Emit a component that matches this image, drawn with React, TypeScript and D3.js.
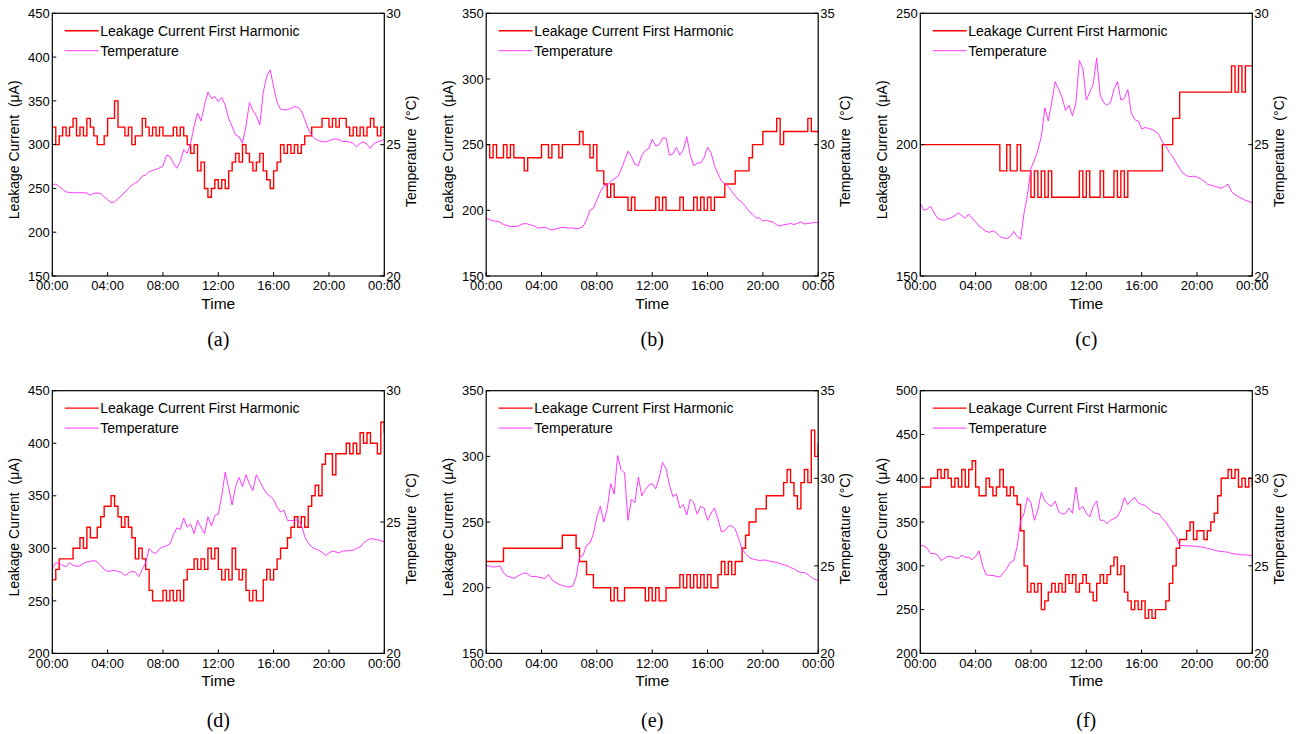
import * as d3 from "d3";

// 15-minute samples over one day (97 points, 00:00 .. 24:00)
const currentA = [
  320, 300, 310, 320, 310, 320, 330, 310, 320, 310, 330, 320,
  310, 300, 300, 310, 330, 330, 350, 320, 320, 310, 320, 300,
  310, 310, 330, 320, 310, 320, 310, 320, 310, 310, 310, 320,
  310, 320, 310, 300, 290, 300, 270, 280, 250, 240, 250, 260,
  250, 260, 250, 270, 280, 290, 280, 300, 290, 280, 270, 280,
  290, 270, 260, 250, 270, 280, 300, 290, 300, 290, 300, 290,
  300, 310, 310, 320, 320, 320, 330, 330, 320, 330, 320, 330,
  330, 320, 310, 320, 310, 320, 310, 320, 330, 320, 310, 320,
  320,
];
const tempA = [
  23.46, 23.5, 23.4, 23.3, 23.2, 23.18, 23.17, 23.17, 23.17, 23.17, 23.16, 23.08,
  23.15, 23.16, 23.14, 23.02, 22.9, 22.8, 22.82, 22.95, 23.05, 23.2, 23.33, 23.46,
  23.55, 23.62, 23.8, 23.85, 23.97, 24.02, 24.06, 24.12, 24.18, 24.6, 24.55, 24.3,
  24.1, 24.35, 24.8, 24.67, 25.05, 25.7, 26.2, 25.9, 26.5, 27.0, 26.76, 26.83,
  26.64, 26.8, 26.5, 26.0, 25.69, 25.37, 25.3, 25.05, 25.7, 26.6, 26.3, 26.1,
  25.75, 27.0, 27.6, 27.85, 27.2, 26.6, 26.35, 26.32, 26.33, 26.38, 26.45, 26.42,
  26.3, 25.95, 25.6, 25.35, 25.22, 25.15, 25.12, 25.1, 25.15, 25.2, 25.22, 25.18,
  25.12, 25.12, 25.1, 25.05, 24.92, 25.05, 25.1, 25.02, 24.86, 25.05, 25.1, 25.15,
  25.2,
];

const currentB = [
  250, 240, 250, 240, 240, 250, 240, 250, 240, 240, 240, 230,
  240, 240, 240, 240, 250, 250, 240, 250, 250, 240, 250, 250,
  250, 250, 250, 260, 250, 250, 240, 250, 230, 230, 220, 210,
  220, 210, 210, 210, 210, 200, 210, 200, 200, 200, 200, 200,
  200, 210, 200, 210, 200, 200, 200, 200, 210, 200, 200, 200,
  210, 200, 210, 200, 210, 200, 210, 210, 210, 220, 220, 220,
  230, 230, 230, 230, 240, 250, 250, 250, 260, 260, 260, 260,
  270, 250, 260, 260, 260, 260, 260, 260, 260, 270, 260, 260,
  260,
];
const tempB = [
  27.2, 27.15, 27.1, 27.08, 27.05, 26.96, 26.92, 26.89, 26.88, 26.89, 26.95, 27.0,
  26.98, 26.94, 26.9, 26.82, 26.84, 26.86, 26.8, 26.75, 26.79, 26.82, 26.85, 26.84,
  26.82, 26.83, 26.8, 26.82, 26.88, 27.13, 27.5, 27.58, 27.9, 28.2, 28.42, 28.46,
  28.6, 28.7, 28.78, 29.05, 29.4, 29.75, 29.55, 29.25, 29.2, 29.6, 29.78, 29.85,
  30.2, 29.95, 30.0, 30.25, 30.25, 29.6, 29.65, 29.9, 29.6, 29.8, 30.3, 29.6,
  29.2, 29.3, 29.3, 29.5, 29.9, 29.7, 29.2, 28.9, 28.62, 28.52, 28.4, 28.22,
  28.05, 27.9, 27.8, 27.65, 27.45, 27.35, 27.22, 27.2, 27.1, 27.12, 27.08, 27.05,
  26.95, 26.9, 26.95, 26.97, 27.0, 26.96, 27.0, 27.06, 26.98, 27.0, 27.02, 27.04,
  27.04,
];

const currentC = [
  200, 200, 200, 200, 200, 200, 200, 200, 200, 200, 200, 200,
  200, 200, 200, 200, 200, 200, 200, 200, 200, 200, 200, 190,
  190, 200, 190, 190, 200, 190, 190, 190, 180, 190, 180, 190,
  180, 190, 180, 180, 180, 180, 180, 180, 180, 180, 190, 180,
  190, 180, 180, 180, 190, 180, 180, 180, 190, 180, 190, 180,
  190, 190, 190, 190, 190, 190, 190, 190, 190, 190, 200, 200,
  200, 210, 210, 220, 220, 220, 220, 220, 220, 220, 220, 220,
  220, 220, 220, 220, 220, 220, 230, 220, 230, 220, 230, 230,
  230,
];
const tempC = [
  22.77, 22.5, 22.55, 22.65, 22.4, 22.2, 22.15, 22.12, 22.18, 22.22, 22.3, 22.4,
  22.3, 22.2, 22.36, 22.2, 22.05, 21.9, 21.8, 21.7, 21.66, 21.72, 21.65, 21.5,
  21.45, 21.43, 21.5, 21.7, 21.5, 21.4, 22.4, 23.1, 24.1, 24.4, 24.8, 25.3,
  26.4, 25.9, 26.6, 27.4, 27.1, 26.8, 26.3, 26.5, 26.1, 26.6, 28.2, 27.9,
  26.7, 27.0, 27.3, 28.3, 26.9, 26.6, 26.5, 26.6, 27.1, 27.4, 26.7, 26.75,
  27.1, 26.2, 25.95, 25.9, 25.6, 25.65, 25.62, 25.58, 25.5, 25.38, 25.1, 24.95,
  24.7, 24.55, 24.3, 24.1, 23.9, 23.82, 23.78, 23.8, 23.77, 23.7, 23.62, 23.5,
  23.45, 23.42, 23.38, 23.34, 23.4, 23.5, 23.2, 23.1, 23.02, 22.95, 22.88, 22.84,
  22.77,
];

const currentD = [
  270, 280, 290, 290, 290, 290, 300, 300, 310, 300, 320, 310,
  310, 320, 330, 340, 340, 350, 340, 330, 320, 330, 320, 310,
  290, 300, 290, 280, 260, 250, 250, 250, 260, 250, 260, 250,
  260, 250, 270, 280, 280, 290, 280, 290, 280, 300, 290, 300,
  280, 270, 280, 270, 300, 280, 270, 280, 260, 250, 260, 250,
  250, 270, 280, 270, 280, 290, 300, 300, 310, 320, 330, 320,
  330, 320, 340, 350, 360, 350, 380, 390, 390, 370, 390, 390,
  390, 400, 390, 400, 390, 410, 400, 410, 400, 400, 390, 420,
  410,
];
const tempD = [
  23.22, 23.45, 23.42, 23.35, 23.3, 23.46, 23.35, 23.32, 23.33, 23.42, 23.48, 23.5,
  23.54, 23.48, 23.35, 23.2, 23.12, 23.14, 23.16, 23.12, 23.08, 22.97, 23.05, 23.12,
  23.1, 22.92, 23.2, 23.45, 24.0, 23.85, 23.8, 23.98, 24.05, 24.1, 24.17, 24.5,
  24.78, 24.72, 25.15, 24.8, 24.92, 24.56, 25.06, 24.8, 24.56, 25.2, 24.85, 25.25,
  25.3, 26.0, 26.9, 26.3, 25.65, 26.35, 26.7, 26.35, 26.8, 26.45, 26.2, 26.8,
  26.55, 26.3, 26.08, 25.98, 25.85, 25.57, 25.38, 25.45, 25.06, 25.06, 25.05, 25.1,
  24.9, 24.45, 24.2, 24.05, 23.98, 23.93, 23.84, 23.73, 23.82, 23.9, 23.86, 23.83,
  23.9, 23.9, 23.92, 23.93, 24.0, 24.05, 24.2, 24.3, 24.37, 24.35, 24.32, 24.3,
  24.24,
];

const currentE = [
  220, 220, 220, 220, 220, 230, 230, 230, 230, 230, 230, 230,
  230, 230, 230, 230, 230, 230, 230, 230, 230, 230, 240, 240,
  240, 240, 230, 220, 220, 210, 210, 200, 200, 200, 200, 200,
  190, 200, 190, 190, 200, 200, 200, 200, 200, 200, 190, 200,
  190, 200, 190, 190, 200, 200, 200, 200, 210, 200, 210, 200,
  210, 200, 210, 200, 210, 200, 200, 210, 220, 210, 220, 210,
  220, 220, 230, 240, 250, 250, 260, 260, 260, 270, 270, 270,
  270, 270, 280, 290, 280, 270, 260, 280, 290, 280, 320, 300,
  310,
];
const tempE = [
  25.02, 24.98, 24.93, 24.95, 25.0, 24.6, 24.42, 24.36, 24.28, 24.4, 24.5, 24.6,
  24.55, 24.38, 24.4, 24.36, 24.32, 24.27, 24.5, 24.2, 24.07, 23.95, 23.88, 23.82,
  23.79, 23.85, 24.36, 25.5, 25.6, 26.17, 26.3, 26.83, 27.8, 28.4, 27.5, 28.26,
  29.69, 29.1, 31.3, 30.5, 30.3, 27.6, 28.8, 28.6, 30.07, 29.0, 29.35, 29.6,
  29.7, 29.4, 30.0, 30.9, 30.55, 29.6, 28.95, 29.1, 28.3, 28.5, 27.9, 28.8,
  28.6, 27.95, 28.4, 28.3, 27.6, 28.0, 28.3, 27.7, 26.95, 27.0, 27.25, 27.3,
  27.1, 26.55, 25.95, 25.7, 25.48, 25.4, 25.35, 25.3, 25.33, 25.32, 25.26, 25.22,
  25.2, 25.12, 25.05, 25.02, 24.9, 24.83, 24.7, 24.62, 24.62, 24.5, 24.35, 24.22,
  24.17,
];

const currentF = [
  390, 390, 390, 400, 400, 410, 400, 410, 400, 390, 400, 390,
  410, 390, 410, 420, 390, 380, 380, 400, 390, 380, 390, 410,
  390, 380, 390, 380, 370, 340, 300, 270, 280, 270, 280, 250,
  260, 270, 280, 270, 280, 270, 290, 280, 290, 270, 280, 290,
  280, 270, 260, 280, 290, 280, 290, 300, 310, 290, 300, 270,
  260, 250, 260, 250, 260, 240, 250, 240, 250, 250, 250, 260,
  280, 300, 320, 330, 330, 340, 350, 330, 340, 340, 330, 340,
  350, 360, 380, 400, 400, 410, 400, 410, 390, 400, 390, 400,
  390,
];
const tempF = [
  26.17, 26.15, 26.0, 25.7, 25.7, 25.62, 25.3, 25.42, 25.55, 25.52, 25.45, 25.42,
  25.6, 25.5, 25.48, 25.35, 25.55, 25.85, 25.02, 24.5, 24.45, 24.45, 24.4, 24.36,
  24.6, 24.85, 25.2, 25.3, 26.1, 27.55, 28.0, 28.9, 28.6, 27.6, 28.2, 29.2,
  28.7, 28.5, 28.4, 28.7, 28.1, 27.95, 28.0, 28.3, 28.0, 29.5, 28.2, 28.4,
  28.0, 27.8, 28.4, 28.7, 27.6, 27.6, 27.42, 27.6, 27.7, 27.8, 28.2, 28.9,
  28.5, 28.75, 28.9, 28.6, 28.5, 28.45, 28.3, 28.1, 28.0, 27.98, 27.7, 27.5,
  27.2, 26.9, 26.65, 26.17, 26.15, 26.15, 26.13, 26.13, 26.1, 26.08, 26.05, 26.0,
  25.95, 25.9, 25.85, 25.82, 25.8, 25.78, 25.7, 25.68, 25.65, 25.62, 25.63, 25.6,
  25.6,
];

const timeTicks = [0, 4, 8, 12, 16, 20, 24];
const timeLabels = ["00:00", "04:00", "08:00", "12:00", "16:00", "20:00", "00:00"];

const panels = [
  { tag: "(a)", cur: currentA, tmp: tempA, curTicks: [150, 200, 250, 300, 350, 400, 450], tmpTicks: [20, 25, 30] },
  { tag: "(b)", cur: currentB, tmp: tempB, curTicks: [150, 200, 250, 300, 350], tmpTicks: [25, 30, 35] },
  { tag: "(c)", cur: currentC, tmp: tempC, curTicks: [150, 200, 250], tmpTicks: [20, 25, 30] },
  { tag: "(d)", cur: currentD, tmp: tempD, curTicks: [200, 250, 300, 350, 400, 450], tmpTicks: [20, 25, 30] },
  { tag: "(e)", cur: currentE, tmp: tempE, curTicks: [150, 200, 250, 300, 350], tmpTicks: [20, 25, 30, 35] },
  { tag: "(f)", cur: currentF, tmp: tempF, curTicks: [200, 250, 300, 350, 400, 450, 500], tmpTicks: [20, 25, 30, 35] },
];

const colX = [52.3, 486.2, 920.3];
const rowY = [13.3, 390.7];
const capY = [346.5, 727];
const plotW = 332;
const plotH = 262.7;
const font = "'Liberation Sans', Arial, sans-serif";
const RED = "#ff0000";
const MAG = "#ff22ff";

function Panel({ p, idx }) {
  const col = idx % 3;
  const row = Math.floor(idx / 3);
  const left = colX[col];
  const top = rowY[row];

  const x = d3.scaleLinear().domain([0, 24]).range([0, plotW]);
  const yL = d3.scaleLinear().domain(d3.extent(p.curTicks)).range([plotH, 0]);
  const yR = d3.scaleLinear().domain(d3.extent(p.tmpTicks)).range([plotH, 0]);

  const curLine = d3.line<number>()
    .x((_, i) => x(i / 4))
    .y((d) => yL(d))
    .curve(d3.curveStepAfter);
  const tmpLine = d3.line<number>()
    .x((_, i) => x(i / 4))
    .y((d) => yR(d));

  const clipId = "clip" + idx;
  const tick = 4;

  return (
    <g transform={`translate(${left},${top})`} fontFamily={font}>
      <defs>
        <clipPath id={clipId}>
          <rect x={0} y={0} width={plotW} height={plotH} />
        </clipPath>
      </defs>
      <rect x={0} y={0} width={plotW} height={plotH} fill="#fff" />

      <g clipPath={`url(#${clipId})`}>
        <path d={curLine(p.cur)} fill="none" stroke={RED} strokeWidth={1.4} />
        <path d={tmpLine(p.tmp)} fill="none" stroke={MAG} strokeWidth={0.9} />
      </g>

      {/* legend */}
      <line x1={12.4} x2={46.4} y1={17.4} y2={17.4} stroke={RED} strokeWidth={1.4} />
      <text x={48} y={22.7} fontSize={14}>Leakage Current First Harmonic</text>
      <line x1={12.4} x2={46.4} y1={37.4} y2={37.4} stroke={MAG} strokeWidth={0.9} />
      <text x={48} y={42.7} fontSize={14}>Temperature</text>

      {/* axes box */}
      <rect x={0} y={0} width={plotW} height={plotH} fill="none" stroke="#000" strokeWidth={1.2} />

      {timeTicks.map((t, i) => (
        <g key={"x" + i}>
          <line x1={x(t)} x2={x(t)} y1={plotH} y2={plotH - tick} stroke="#000" strokeWidth={1} />
          <text x={x(t)} y={plotH + 14.5} fontSize={13} textAnchor="middle">{timeLabels[i]}</text>
        </g>
      ))}
      {p.curTicks.map((v) => (
        <g key={"l" + v}>
          <line x1={0} x2={tick} y1={yL(v)} y2={yL(v)} stroke="#000" strokeWidth={1} />
          <text x={-2.5} y={yL(v)} dy="0.36em" fontSize={13} textAnchor="end">{v}</text>
        </g>
      ))}
      {p.tmpTicks.map((v) => (
        <g key={"r" + v}>
          <line x1={plotW - tick} x2={plotW} y1={yR(v)} y2={yR(v)} stroke="#000" strokeWidth={1} />
          <text x={plotW + 2} y={yR(v)} dy="0.36em" fontSize={13} textAnchor="start">{v}</text>
        </g>
      ))}

      <text x={plotW / 2} y={plotH + 33} fontSize={15.5} textAnchor="middle">Time</text>
      <text
        transform={`translate(-33,136.5) rotate(-90)`}
        fontSize={14}
        textAnchor="middle"
        style={{ whiteSpace: "pre" }}
      >
        {"Leakage Current  (\u03bcA)"}
      </text>
      <text
        transform={`translate(${plotW + 32},138) rotate(-90)`}
        fontSize={14}
        textAnchor="middle"
        style={{ whiteSpace: "pre" }}
      >
        {"Temperature  (\u00b0C)"}
      </text>

      <text
        x={plotW / 2}
        y={capY[row] - top}
        fontSize={20}
        textAnchor="middle"
        fontFamily="'Liberation Serif', 'Times New Roman', serif"
      >
        {p.tag}
      </text>
    </g>
  );
}

export default function App() {
  return (
    <svg
      width={1296}
      height={734}
      style={{ position: "absolute", left: 0, top: 0, background: "#fff" }}
    >
      <rect width={1296} height={734} fill="#fff" />
      {panels.map((p, i) => (
        <Panel key={p.tag} p={p} idx={i} />
      ))}
    </svg>
  );
}
